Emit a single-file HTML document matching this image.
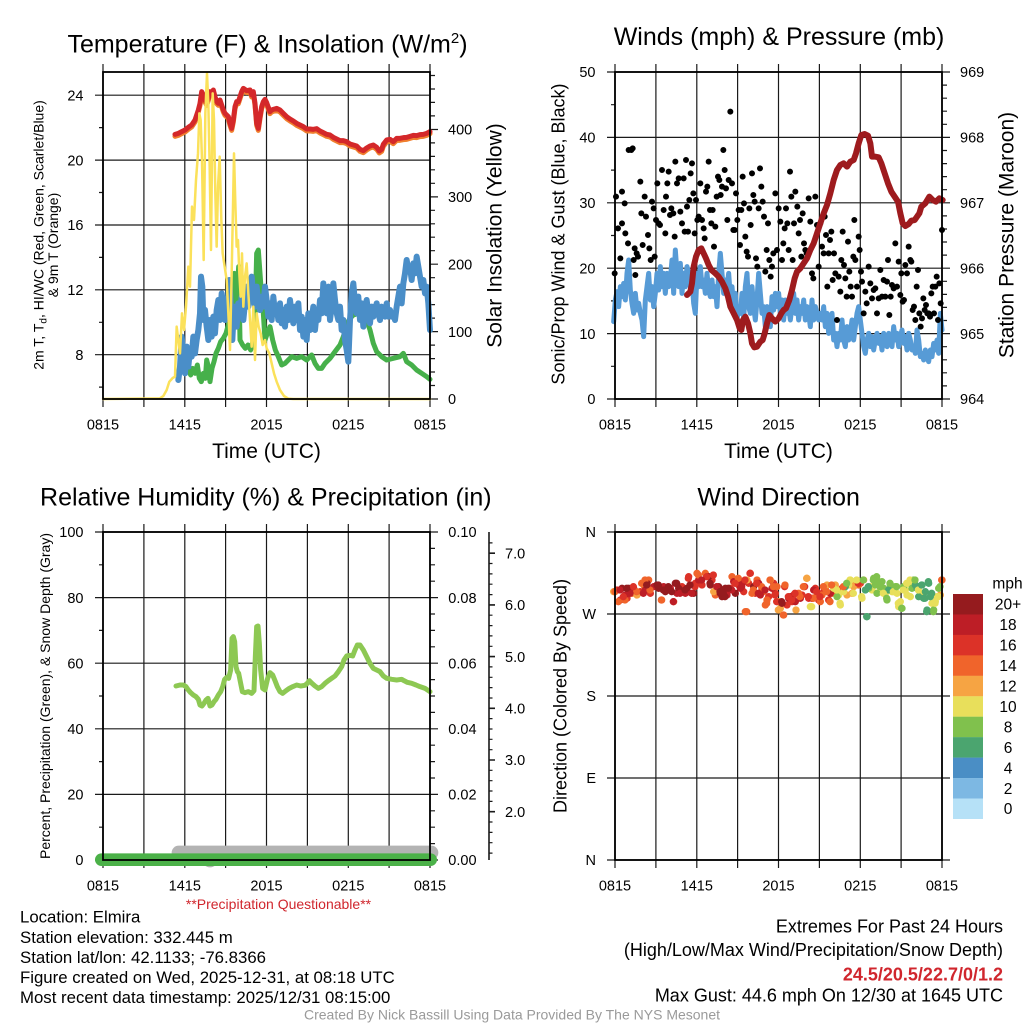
<!DOCTYPE html>
<html><head><meta charset="utf-8"><style>
html,body{margin:0;padding:0;background:#fff;width:1024px;height:1024px;overflow:hidden}
svg{display:block}
text{font-family:"Liberation Sans",Arial,sans-serif;fill:#000}
</style></head><body>
<svg width="1024" height="1024" viewBox="0 0 1024 1024" xmlns="http://www.w3.org/2000/svg">
<rect width="1024" height="1024" fill="#fff"/>

<!-- ================= TOP LEFT ================= -->
<g fill="none" stroke="#1a1a1a" stroke-width="1.2">
<path d="M103,64V407M143.9,64V407M184.8,64V407M225.6,64V407M266.5,64V407M307.4,64V407M348.3,64V407M389.1,64V407M430,64V407M95,95.2H430M95,160.1H430M95,225H430M95,289.8H430M95,354.7H430M430,399H438M430,331.6H438M430,264.2H438M430,196.9H438M430,129.5H438"/>
<path d="M99,127.6H103M99,192.5H103M99,257.4H103M99,322.3H103M99,387.1H103M430,385.5h5M430,372h5M430,358.6h5M430,345.1h5M430,318.1h5M430,304.6h5M430,291.2h5M430,277.7h5M430,250.7h5M430,237.2h5M430,223.8h5M430,210.3h5M430,183.3h5M430,169.8h5M430,156.4h5M430,142.9h5M430,115.9h5M430,102.4h5M430,89h5M430,75.5h5"/>
</g>
<g transform="translate(0,20) scale(0.333333)" fill="none" stroke-linejoin="round" stroke-linecap="round">
<path transform="translate(0,6)" stroke="#f07f2e" stroke-width="15" d="M525,343 L535,340 545,335 555,330 565,322 575,315 585,300 595,270 600,250 605,215 610,225 615,240 620,250 625,235 630,215 635,220 640,210 645,230 650,245 655,250 660,240 665,255 670,270 675,280 680,285 685,290 690,310 695,325 700,300 705,260 710,245 715,245 720,230 725,215 730,205 740,212 750,210 755,225 760,215 765,250 770,310 775,325 780,290 785,260 790,245 795,238 800,248 805,262 810,275 815,270 820,268 830,265 840,270 850,280 860,290 870,297 880,303 890,310 900,315 910,320 920,327 930,327 940,328 950,326 960,333 970,338 980,343 990,345 1000,352 1010,357 1020,362 1030,362 1040,365 1050,372 1060,375 1070,378 1080,388 1090,392 1100,384 1110,378 1120,375 1130,382 1138,393 1145,388 1150,373 1160,360 1170,358 1180,365 1190,355 1200,355 1210,353 1220,352 1230,349 1240,346 1250,347 1260,344 1270,343 1280,340 1290,335"/>
<path stroke="#d4282a" stroke-width="15" d="M525,343 L535,340 545,335 555,330 565,322 575,315 585,300 595,270 600,250 605,215 610,225 615,240 620,250 625,235 630,215 635,220 640,210 645,230 650,245 655,250 660,240 665,255 670,270 675,280 680,285 685,290 690,310 695,325 700,300 705,260 710,245 715,245 720,230 725,215 730,205 740,212 750,210 755,225 760,215 765,250 770,310 775,325 780,290 785,260 790,245 795,238 800,248 805,262 810,275 815,270 820,268 830,265 840,270 850,280 860,290 870,297 880,303 890,310 900,315 910,320 920,327 930,327 940,328 950,326 960,333 970,338 980,343 990,345 1000,352 1010,357 1020,362 1030,362 1040,365 1050,372 1060,375 1070,378 1080,388 1090,392 1100,384 1110,378 1120,375 1130,382 1138,393 1145,388 1150,373 1160,360 1170,358 1180,365 1190,355 1200,355 1210,353 1220,352 1230,349 1240,346 1250,347 1260,344 1270,343 1280,340 1290,335"/>
<path stroke="#46b04a" stroke-width="15" d="M565,1050 L572,1065 578,1045 585,1060 592,1035 598,1075 604,1085 610,1060 616,1075 620,1020 625,1040 630,1085 636,1045 642,1025 648,1000 655,985 662,965 670,955 678,940 686,910 692,880 698,830 703,760 708,880 712,810 716,740 720,960 728,975 736,985 744,975 752,990 760,960 765,900 770,700 775,690 780,760 785,830 790,880 795,960 802,940 810,920 818,960 826,990 835,1010 845,1035 855,1030 865,1020 875,1010 890,1015 905,1010 920,1020 935,1005 945,1030 955,1045 965,1045 975,1030 990,1015 1005,995 1020,975 1030,950 1040,915 1050,895 1060,885 1075,880 1090,875 1100,900 1110,930 1120,970 1130,995 1145,1010 1160,1020 1180,1015 1200,1010 1210,1000 1220,1025 1235,1035 1250,1050 1265,1060 1280,1070 1290,1078"/>
<path stroke="#4a8ec8" stroke-width="18" d="M535,1080 L540,1040 545,950 550,1000 555,1060 560,980 565,1040 570,990 575,1010 580,950 585,1000 590,960 595,930 600,880 603,770 607,800 610,900 615,870 620,920 625,960 630,900 635,950 640,890 645,940 650,870 655,840 660,900 665,820 670,860 675,900 680,880 685,820 688,780 692,850 697,960 700,900 705,860 710,920 715,850 720,880 725,830 730,900 735,850 740,800 745,860 750,810 755,770 760,830 765,860 770,800 775,850 780,870 785,830 790,860 795,800 800,840 805,890 810,850 815,900 820,830 825,880 830,860 835,900 840,850 845,910 850,870 855,920 860,860 865,900 870,840 875,880 880,910 885,860 890,900 895,850 900,930 905,890 910,950 915,900 920,960 925,880 930,930 935,900 940,860 945,930 950,880 955,900 960,840 965,880 970,790 975,850 980,880 985,800 990,900 995,860 1000,790 1005,840 1010,880 1015,900 1020,860 1025,930 1030,900 1035,960 1040,990 1045,1025 1050,900 1055,820 1060,790 1065,850 1070,880 1075,830 1080,900 1085,850 1090,920 1095,870 1100,840 1105,880 1110,910 1115,860 1120,890 1125,870 1130,850 1135,880 1140,900 1145,860 1150,880 1155,890 1160,850 1165,890 1170,870 1175,890 1180,880 1185,900 1190,860 1195,830 1200,800 1205,850 1210,790 1215,760 1220,720 1225,750 1230,740 1235,780 1240,730 1245,760 1250,710 1255,740 1260,770 1265,800 1270,780 1275,820 1280,800 1285,850 1290,930"/>
<path stroke="#fbe15a" stroke-width="7.5" d="M309,1137 L480,1135 490,1128 500,1110 508,1085 518,1074 525,1070 530,920 535,960 540,1000 546,880 552,930 558,860 565,740 570,800 576,560 582,600 588,480 594,400 598,280 602,300 606,420 611,720 616,280 621,160 625,250 629,440 633,690 638,220 642,300 646,520 650,680 654,500 659,410 664,600 668,700 674,740 680,780 686,900 690,990 695,760 699,560 702,400 706,550 710,680 714,660 718,760 722,830 726,700 730,860 735,770 740,730 745,820 750,900 755,980 760,860 765,1020 770,880 776,920 782,940 788,975 795,960 800,985 808,1000 815,1030 822,1060 830,1085 840,1110 852,1128 865,1136 880,1137 1290,1137"/>
</g>
<rect x="103" y="72" width="327" height="327" fill="none" stroke="#000" stroke-width="1.8"/>
<text x="267.5" y="52.3" font-size="25" text-anchor="middle">Temperature (F) &amp; Insolation (W/m<tspan font-size="15" dy="-9.3">2</tspan><tspan dy="9.3">)</tspan></text>
<g font-size="14.5">
<text x="83.5" y="100.4" text-anchor="end">24</text>
<text x="83.5" y="165.3" text-anchor="end">20</text>
<text x="83.5" y="230.2" text-anchor="end">16</text>
<text x="83.5" y="295" text-anchor="end">12</text>
<text x="83.5" y="359.9" text-anchor="end">8</text>
<text x="448" y="404.2">0</text>
<text x="448" y="336.8">100</text>
<text x="448" y="269.4">200</text>
<text x="448" y="202.1">300</text>
<text x="448" y="134.7">400</text>
<text x="103" y="429.5" text-anchor="middle">0815</text>
<text x="184.8" y="429.5" text-anchor="middle">1415</text>
<text x="266.5" y="429.5" text-anchor="middle">2015</text>
<text x="348.3" y="429.5" text-anchor="middle">0215</text>
<text x="430" y="429.5" text-anchor="middle">0815</text>
</g>
<text x="266.5" y="458" font-size="21" text-anchor="middle">Time (UTC)</text>
<text transform="translate(501.7,235.5) rotate(-90)" font-size="21" text-anchor="middle">Solar Insolation (Yellow)</text>
<text transform="translate(43.5,235) rotate(-90)" font-size="14" text-anchor="middle">2m T, T<tspan font-size="10" dy="3">d</tspan><tspan dy="-3">, HI/WC (Red, Green, Scarlet/Blue)</tspan></text>
<text transform="translate(58,245) rotate(-90)" font-size="14" text-anchor="middle">&amp; 9m T (Orange)</text>

<!-- ================= TOP RIGHT ================= -->
<g fill="none" stroke="#1a1a1a" stroke-width="1.2">
<path d="M615,64V407M655.9,64V407M696.8,64V407M737.6,64V407M778.5,64V407M819.4,64V407M860.3,64V407M901.1,64V407M942,64V407M607,399H950M607,333.6H950M607,268.2H950M607,202.8H950M607,137.4H950M607,72H950"/>
<path d="M611,366.3h4M611,300.9h4M611,235.5h4M611,170.1h4M611,104.7h4M942,385.9h5M942,372.8h5M942,359.8h5M942,346.7h5M942,320.5h5M942,307.4h5M942,294.4h5M942,281.3h5M942,255.1h5M942,242h5M942,229h5M942,215.9h5M942,189.7h5M942,176.6h5M942,163.6h5M942,150.5h5M942,124.3h5M942,111.2h5M942,98.2h5M942,85.1h5"/>
</g>
<g transform="translate(512,20) scale(0.333333)" fill="none" stroke-linejoin="round" stroke-linecap="round">
<path stroke="#579bd6" stroke-width="15" d="M305,905 L310,840 315,815 320,860 325,800 330,830 335,790 340,840 345,760 350,720 355,810 360,850 365,880 370,820 375,870 380,850 385,880 390,900 395,950 400,840 405,800 410,760 415,840 420,800 425,860 430,820 435,760 440,810 445,740 450,800 455,760 460,820 465,760 470,800 475,780 480,720 485,820 490,690 495,760 500,800 505,730 510,820 515,760 520,800 525,740 530,760 535,800 540,780 545,850 550,880 555,760 560,800 565,740 570,800 575,780 580,820 585,760 590,810 595,830 600,780 605,830 610,800 615,860 620,760 625,700 630,760 635,820 640,780 645,800 650,760 655,830 660,800 665,860 670,820 675,900 680,860 685,880 690,820 695,900 700,800 705,760 710,860 715,880 720,800 725,860 730,900 735,840 740,760 745,820 750,880 755,860 760,920 765,860 770,880 775,920 780,830 785,870 790,820 795,860 800,820 805,880 810,840 815,900 820,840 825,880 830,860 835,900 840,860 845,820 850,880 855,840 860,900 865,860 870,880 875,840 880,900 885,860 890,880 895,920 900,840 905,900 910,860 915,880 920,900 925,880 930,900 935,860 940,920 945,880 950,940 955,900 960,880 965,960 970,940 975,980 980,940 985,960 990,900 995,960 1000,980 1005,920 1010,960 1015,940 1020,900 1025,960 1030,920 1035,880 1040,860 1045,900 1050,940 1055,980 1060,1000 1065,960 1070,940 1075,980 1080,950 1085,990 1090,960 1095,940 1100,970 1105,950 1110,990 1115,940 1120,960 1125,980 1130,940 1135,960 1140,980 1145,920 1150,960 1155,940 1160,980 1165,950 1170,930 1175,970 1180,950 1185,990 1190,940 1195,960 1200,990 1205,980 1210,1000 1215,930 1220,960 1225,1010 1230,1000 1235,1020 1240,990 1245,1010 1250,1025 1255,990 1260,1010 1265,970 1270,990 1275,960 1280,1000 1285,880 1290,930"/>
<path stroke="#000" stroke-width="18" d="M308,760h0M312,530h0M318,625h0M325,715h0M330,610h0M330,515h0M338,550h0M340,640h0M348,670h0M350,390h0M358,390h0M362,385h0M365,720h0M368,685h0M370,765h0M374,700h0M378,710h0M385,485h0M388,580h0M392,675h0M398,530h0M402,590h0M408,645h0M412,685h0M416,720h0M420,545h0M425,565h0M428,710h0M432,600h0M436,490h0M440,610h0M444,615h0M450,450h0M455,570h0M460,640h0M462,530h0M466,490h0M470,455h0M474,585h0M478,565h0M484,580h0M488,650h0M490,425h0M495,490h0M500,475h0M505,575h0M510,610h0M515,475h0M518,635h0M522,420h0M525,560h0M528,635h0M532,540h0M536,460h0M540,430h0M544,520h0M548,640h0M552,540h0M556,600h0M560,590h0M565,490h0M570,600h0M575,625h0M578,655h0M582,515h0M586,500h0M590,425h0M594,570h0M598,610h0M602,570h0M606,680h0M610,620h0M614,530h0M618,470h0M622,480h0M626,525h0M630,500h0M634,390h0M638,450h0M642,505h0M646,600h0M650,480h0M655,275h0M660,490h0M664,630h0M668,630h0M672,520h0M676,600h0M680,570h0M684,675h0M688,570h0M692,470h0M696,550h0M700,650h0M704,695h0M708,710h0M712,565h0M716,615h0M720,460h0M724,525h0M728,545h0M732,715h0M736,740h0M740,565h0M744,445h0M748,500h0M752,545h0M756,590h0M760,755h0M764,690h0M768,610h0M772,720h0M776,770h0M780,740h0M784,700h0M790,520h0M795,690h0M800,565h0M805,605h0M810,720h0M814,670h0M818,625h0M822,565h0M826,610h0M830,690h0M834,455h0M838,530h0M842,720h0M846,610h0M850,515h0M856,560h0M860,640h0M864,600h0M868,710h0M872,580h0M876,670h0M880,690h0M884,700h0M890,535h0M895,605h0M900,760h0M904,775h0M910,530h0M915,615h0M920,740h0M925,610h0M930,680h0M935,700h0M938,590h0M942,645h0M946,800h0M950,700h0M954,660h0M958,635h0M962,780h0M966,700h0M970,760h0M975,900h0M980,770h0M985,815h0M988,720h0M992,635h0M996,735h0M1000,775h0M1004,830h0M1008,665h0M1012,755h0M1016,800h0M1020,830h0M1024,710h0M1027,600h0M1030,720h0M1035,800h0M1040,650h0M1043,690h0M1047,755h0M1050,785h0M1055,880h0M1060,815h0M1064,850h0M1070,740h0M1075,790h0M1080,835h0M1085,810h0M1090,805h0M1095,880h0M1100,835h0M1105,750h0M1110,830h0M1115,780h0M1120,830h0M1125,785h0M1128,720h0M1132,885h0M1136,830h0M1140,795h0M1145,805h0M1150,670h0M1155,800h0M1160,725h0M1165,825h0M1168,760h0M1172,845h0M1176,840h0M1180,735h0M1185,760h0M1190,680h0M1195,720h0M1198,725h0M1202,870h0M1206,860h0M1210,900h0M1214,800h0M1218,750h0M1222,880h0M1226,920h0M1230,895h0M1234,835h0M1238,870h0M1242,855h0M1246,880h0M1250,880h0M1254,890h0M1258,820h0M1262,800h0M1266,880h0M1270,800h0M1274,770h0M1278,900h0M1282,790h0M1286,850h0M1290,630h0"/>
<path stroke="#9e1b1e" stroke-width="18" d="M525,825 L535,815 540,790 545,740 552,710 560,690 568,685 575,700 582,715 590,735 598,750 610,760 620,770 630,785 640,805 648,830 655,860 665,880 675,900 683,925 688,930 693,900 700,890 708,910 715,940 720,970 727,982 735,980 745,965 752,960 758,940 765,910 772,885 780,895 790,905 800,895 808,880 815,870 822,865 832,840 840,810 848,775 855,755 865,745 875,730 885,715 895,690 905,670 915,640 925,610 935,580 945,555 955,520 965,480 975,450 985,435 995,430 1005,440 1015,425 1025,420 1032,400 1040,370 1048,345 1058,342 1068,347 1075,370 1080,410 1090,410 1100,412 1108,430 1118,460 1128,490 1138,515 1148,530 1158,545 1165,580 1172,610 1180,618 1190,612 1198,602 1208,600 1215,590 1222,580 1228,560 1240,550 1252,530 1262,540 1272,545 1282,535 1292,540"/>
</g>
<rect x="615" y="72" width="327" height="327" fill="none" stroke="#000" stroke-width="1.8"/>
<text x="779" y="45" font-size="25" text-anchor="middle">Winds (mph) &amp; Pressure (mb)</text>
<g font-size="14.5">
<text x="595.5" y="404.2" text-anchor="end">0</text>
<text x="595.5" y="338.8" text-anchor="end">10</text>
<text x="595.5" y="273.4" text-anchor="end">20</text>
<text x="595.5" y="208" text-anchor="end">30</text>
<text x="595.5" y="142.6" text-anchor="end">40</text>
<text x="595.5" y="77.2" text-anchor="end">50</text>
<text x="960" y="404.2">964</text>
<text x="960" y="338.8">965</text>
<text x="960" y="273.4">966</text>
<text x="960" y="208">967</text>
<text x="960" y="142.6">968</text>
<text x="960" y="77.2">969</text>
<text x="615" y="429.5" text-anchor="middle">0815</text>
<text x="696.8" y="429.5" text-anchor="middle">1415</text>
<text x="778.5" y="429.5" text-anchor="middle">2015</text>
<text x="860.3" y="429.5" text-anchor="middle">0215</text>
<text x="942" y="429.5" text-anchor="middle">0815</text>
</g>
<text x="778.5" y="458" font-size="21" text-anchor="middle">Time (UTC)</text>
<text transform="translate(564.5,234) rotate(-90)" font-size="18" text-anchor="middle">Sonic/Prop Wind &amp; Gust (Blue, Black)</text>
<text transform="translate(1013.5,235) rotate(-90)" font-size="21" text-anchor="middle">Station Pressure (Maroon)</text>

<!-- ================= BOTTOM LEFT ================= -->
<g fill="none" stroke="#1a1a1a" stroke-width="1.2">
<path d="M103,524V868M143.9,524V868M184.8,524V868M225.6,524V868M266.5,524V868M307.4,524V868M348.3,524V868M389.1,524V868M430,524V868M95,860H438M95,794.4H438M95,728.8H438M95,663.2H438M95,597.6H438M95,532H438"/>
<path d="M99,827.2h4M99,761.6h4M99,696h4M99,630.4h4M99,564.8h4M430,843.6h5M430,827.2h5M430,810.8h5M430,778h5M430,761.6h5M430,745.2h5M430,712.4h5M430,696h5M430,679.6h5M430,646.8h5M430,630.4h5M430,614h5M430,581.2h5M430,564.8h5M430,548.4h5"/>
<path stroke-width="1.6" d="M489,532V860M489,811.7h6M489,760h6M489,708.3h6M489,656.6h6M489,604.9h6M489,553.2h6"/>
<path d="M489,853.1h3.5M489,842.7h3.5M489,832.4h3.5M489,822h3.5M489,801.4h3.5M489,791h3.5M489,780.7h3.5M489,770.3h3.5M489,749.7h3.5M489,739.3h3.5M489,729h3.5M489,718.6h3.5M489,698h3.5M489,687.6h3.5M489,677.3h3.5M489,666.9h3.5M489,646.3h3.5M489,635.9h3.5M489,625.6h3.5M489,615.2h3.5M489,594.6h3.5M489,584.2h3.5M489,573.9h3.5M489,563.5h3.5M489,542.9h3.5"/>
</g>
<g transform="translate(0,470) scale(0.333333)" fill="none" stroke-linejoin="round" stroke-linecap="round">
<path stroke="#b3b3b3" stroke-width="42" d="M536,1148 L1294,1148"/>
<circle cx="630" cy="1168" r="24" fill="#b3b3b3" stroke="none"/>
<path stroke="#4bb148" stroke-width="38" d="M304,1169 L1292,1169"/>
<path stroke="#8dc853" stroke-width="15" d="M528,648 L540,645 550,645 558,650 565,660 572,668 580,675 588,680 595,688 600,705 606,708 612,700 618,690 624,685 630,708 636,705 642,695 648,688 655,675 662,665 668,650 674,628 680,622 686,625 692,600 696,505 700,500 704,515 708,590 712,605 716,610 722,640 727,665 735,668 745,665 755,670 762,662 766,560 770,470 774,468 778,520 782,600 788,655 795,660 803,625 810,608 818,615 825,632 832,650 840,665 848,670 858,662 868,655 878,650 890,645 902,648 915,646 922,640 928,632 936,640 945,648 955,655 965,650 975,640 985,632 995,625 1005,618 1015,605 1025,590 1032,570 1040,558 1050,556 1058,558 1065,540 1072,525 1080,525 1090,540 1100,560 1110,580 1120,595 1130,600 1140,605 1150,618 1160,625 1175,628 1190,630 1205,628 1212,632 1222,637 1235,640 1248,645 1260,650 1275,655 1290,665"/>
</g>
<rect x="103" y="532" width="327" height="328" fill="none" stroke="#000" stroke-width="1.8"/>
<text x="265.8" y="505.5" font-size="25" text-anchor="middle">Relative Humidity (%) &amp; Precipitation (in)</text>
<g font-size="14.5">
<text x="83.5" y="865.2" text-anchor="end">0</text>
<text x="83.5" y="799.6" text-anchor="end">20</text>
<text x="83.5" y="734" text-anchor="end">40</text>
<text x="83.5" y="668.4" text-anchor="end">60</text>
<text x="83.5" y="602.8" text-anchor="end">80</text>
<text x="83.5" y="537.2" text-anchor="end">100</text>
<text x="448.3" y="865.2">0.00</text>
<text x="448.3" y="799.6">0.02</text>
<text x="448.3" y="734">0.04</text>
<text x="448.3" y="668.4">0.06</text>
<text x="448.3" y="602.8">0.08</text>
<text x="448.3" y="537.2">0.10</text>
<text x="505" y="816.9">2.0</text>
<text x="505" y="765.2">3.0</text>
<text x="505" y="713.5">4.0</text>
<text x="505" y="661.8">5.0</text>
<text x="505" y="610.1">6.0</text>
<text x="505" y="558.4">7.0</text>
<text x="103" y="890.5" text-anchor="middle">0815</text>
<text x="184.8" y="890.5" text-anchor="middle">1415</text>
<text x="266.5" y="890.5" text-anchor="middle">2015</text>
<text x="348.3" y="890.5" text-anchor="middle">0215</text>
<text x="430" y="890.5" text-anchor="middle">0815</text>
</g>
<text transform="translate(50,696) rotate(-90)" font-size="14" text-anchor="middle">Percent, Precipitation (Green), &amp; Snow Depth (Gray)</text>
<text x="278.5" y="909" font-size="14" text-anchor="middle" style="fill:#d0262d">**Precipitation Questionable**</text>

<!-- ================= BOTTOM RIGHT ================= -->
<g fill="none" stroke="#1a1a1a" stroke-width="1.2">
<path d="M615,524V868M655.9,524V868M696.8,524V868M737.6,524V868M778.5,524V868M819.4,524V868M860.3,524V868M901.1,524V868M942,524V868M607,532H950M607,614H950M607,696H950M607,778H950M607,860H950"/>
</g>
<g transform="translate(512,470) scale(0.333333)" fill="none" stroke-linecap="round" stroke-width="22">
<path stroke="#dc3228" d="M315,360h0M325,390h0M345,385h0M385,365h0M415,370h0M510,350h0M530,320h0M550,340h0M570,345h0M600,330h0M655,355h0M680,345h0M695,365h0M710,340h0M715,310h0M730,370h0M750,355h0M770,380h0M785,340h0M790,370h0M818,350h0M825,405h0M840,395h0M845,375h0M870,375h0M878,350h0M890,385h0M910,355h0M920,390h0M935,365h0M950,390h0M990,355h0M1035,335h0M1045,340h0"/>
<path stroke="#f0642b" d="M360,370h0M395,345h0M410,330h0M448,390h0M485,395h0M555,310h0M580,310h0M610,375h0M660,320h0M700,425h0M720,370h0M735,330h0M755,365h0M760,405h0M765,390h0M795,350h0M815,435h0M860,370h0M915,375h0M925,395h0M930,375h0M940,355h0M960,370h0M1040,345h0M1290,330h0"/>
<path stroke="#f6a443" d="M305,365h0M375,375h0M605,365h0M705,330h0M775,330h0M800,395h0M805,415h0M852,420h0M885,325h0M945,345h0M970,345h0M1005,375h0M1020,370h0M1025,350h0M1030,340h0M1055,330h0M1285,375h0"/>
<path stroke="#bd1e26" d="M340,375h0M365,355h0M400,360h0M425,350h0M455,350h0M475,355h0M495,370h0M520,370h0M535,345h0M560,330h0M645,375h0M665,335h0M685,355h0M690,340h0M740,340h0M745,375h0M780,355h0M830,385h0M835,380h0M850,395h0M865,385h0M900,385h0M905,360h0M955,370h0"/>
<path stroke="#951b1e" d="M330,355h0M350,355h0M405,340h0M435,345h0M440,355h0M460,365h0M470,360h0M490,340h0M500,355h0M525,355h0M545,370h0M590,320h0M595,345h0M620,350h0M625,370h0M630,380h0M640,355h0M670,370h0M725,350h0M810,400h0"/>
<path stroke="#e8df5b" d="M390,340h0M895,410h0M965,355h0M980,375h0M985,405h0M995,365h0M1010,345h0M1015,330h0M1050,385h0M1075,350h0M1080,360h0M1105,360h0M1120,370h0M1140,365h0M1145,355h0M1155,370h0M1160,410h0M1165,395h0M1180,360h0M1185,375h0M1190,340h0M1195,380h0M1225,370h0M1260,400h0M1270,395h0M1275,380h0"/>
<path stroke="#80c14d" d="M975,380h0M1070,355h0M1085,325h0M1090,345h0M1095,370h0M1100,335h0M1110,335h0M1115,355h0M1125,390h0M1135,345h0M1150,350h0M1170,415h0M1175,350h0M1200,355h0M1205,330h0M1265,420h0M1280,355h0"/>
<path stroke="#4ba56f" d="M1000,350h0M1060,360h0M1065,440h0M1130,360h0M1210,345h0M1215,355h0M1220,380h0M1230,345h0M1235,385h0M1240,365h0M1245,420h0M1250,340h0M1255,380h0"/>
</g>
<g transform="translate(610,560) scale(0.333333)" fill="none" stroke-linecap="round" stroke-width="22">
<path stroke="#f0642b" d="M15,95h0M80,95h0M95,70h0M105,60h0M120,90h0M45,120h0M25,125h0M155,120h0M265,45h0M385,55h0M410,155h0M430,90h0M455,80h0M470,130h0M480,60h0M490,80h0M520,165h0M525,75h0M570,110h0M580,80h0M610,115h0M640,80h0M650,95h0M660,125h0M665,75h0M700,80h0M995,60h0"/>
<path stroke="#dc3228" d="M40,110h0M70,80h0M235,55h0M255,80h0M290,50h0M310,45h0M375,70h0M405,60h0M420,40h0M440,70h0M495,105h0M500,125h0M535,110h0M545,120h0M555,100h0M595,110h0M620,95h0M630,110h0M745,70h0"/>
<path stroke="#bd1e26" d="M30,90h0M60,100h0M100,100h0M190,125h0M210,100h0M245,100h0M275,60h0M320,80h0M365,90h0M395,80h0M445,100h0M465,90h0"/>
<path stroke="#951b1e" d="M50,85h0M110,75h0M145,75h0M160,90h0M175,80h0M185,95h0M200,70h0M225,90h0M240,75h0M300,70h0M330,95h0M340,100h0M345,110h0M355,85h0M515,125h0"/>
<path stroke="#f6a443" d="M590,55h0M505,150h0"/>
<path stroke="#e8df5b" d="M605,140h0M680,90h0M690,130h0M720,60h0M730,100h0M740,60h0M755,110h0M820,100h0M850,95h0M865,130h0M880,90h0M890,70h0M900,60h0M925,90h0M975,130h0M985,110h0"/>
<path stroke="#80c14d" d="M710,70h0M760,60h0M790,60h0M800,50h0M810,80h0M830,115h0M840,70h0M860,80h0M875,145h0M915,60h0M970,155h0M990,80h0"/>
<path stroke="#4ba56f" d="M770,170h0M775,80h0M935,75h0M945,115h0M950,155h0M955,65h0M965,100h0"/>
</g>
<rect x="615" y="532" width="327" height="328" fill="none" stroke="#000" stroke-width="1.8"/>
<text x="778.7" y="505.5" font-size="25" text-anchor="middle">Wind Direction</text>
<g font-size="14.5">
<text x="596" y="537.2" text-anchor="end">N</text>
<text x="596" y="619.2" text-anchor="end">W</text>
<text x="596" y="701.2" text-anchor="end">S</text>
<text x="596" y="783.2" text-anchor="end">E</text>
<text x="596" y="865.2" text-anchor="end">N</text>
<text x="615" y="890.5" text-anchor="middle">0815</text>
<text x="696.8" y="890.5" text-anchor="middle">1415</text>
<text x="778.5" y="890.5" text-anchor="middle">2015</text>
<text x="860.3" y="890.5" text-anchor="middle">0215</text>
<text x="942" y="890.5" text-anchor="middle">0815</text>
</g>
<text transform="translate(566.5,696) rotate(-90)" font-size="18" text-anchor="middle">Direction (Colored By Speed)</text>

<!-- colorbar -->
<g>
<rect x="953" y="594" width="30" height="20.6" fill="#951b1e"/>
<rect x="953" y="614.45" width="30" height="20.6" fill="#bd1e26"/>
<rect x="953" y="634.9" width="30" height="20.6" fill="#dc3228"/>
<rect x="953" y="655.35" width="30" height="20.6" fill="#f0642b"/>
<rect x="953" y="675.8" width="30" height="20.6" fill="#f6a443"/>
<rect x="953" y="696.25" width="30" height="20.6" fill="#e8df5b"/>
<rect x="953" y="716.7" width="30" height="20.6" fill="#80c14d"/>
<rect x="953" y="737.15" width="30" height="20.6" fill="#4ba56f"/>
<rect x="953" y="757.6" width="30" height="20.6" fill="#4a8ec5"/>
<rect x="953" y="778.05" width="30" height="20.6" fill="#7db8e3"/>
<rect x="953" y="798.5" width="30" height="20.5" fill="#b6e1f7"/>
</g>
<g font-size="15.5" text-anchor="middle">
<text x="1007.5" y="588.5">mph</text>
<text x="1008" y="609.7">20+</text>
<text x="1008" y="630.2">18</text>
<text x="1008" y="650.6">16</text>
<text x="1008" y="671.1">14</text>
<text x="1008" y="691.5">12</text>
<text x="1008" y="712">10</text>
<text x="1008" y="732.4">8</text>
<text x="1008" y="752.9">6</text>
<text x="1008" y="773.3">4</text>
<text x="1008" y="793.8">2</text>
<text x="1008" y="814.2">0</text>
</g>

<!-- ================= FOOTER ================= -->
<g font-size="16.8">
<text x="20" y="922.5">Location: Elmira</text>
<text x="20" y="943">Station elevation: 332.445 m</text>
<text x="20" y="963">Station lat/lon: 42.1133; -76.8366</text>
<text x="20" y="983">Figure created on Wed, 2025-12-31, at 08:18 UTC</text>
<text x="20" y="1003">Most recent data timestamp: 2025/12/31 08:15:00</text>
</g>
<g font-size="18" text-anchor="end">
<text x="1003" y="932.5">Extremes For Past 24 Hours</text>
<text x="1003" y="956">(High/Low/Max Wind/Precipitation/Snow Depth)</text>
<text x="1003" y="980.5" font-weight="bold" style="fill:#d0262d">24.5/20.5/22.7/0/1.2</text>
<text x="1003" y="1001.5">Max Gust: 44.6 mph On 12/30 at 1645 UTC</text>
</g>
<text x="512" y="1019.3" font-size="14" text-anchor="middle" style="fill:#9a9a9a">Created By Nick Bassill Using Data Provided By The NYS Mesonet</text>
</svg>
</body></html>
